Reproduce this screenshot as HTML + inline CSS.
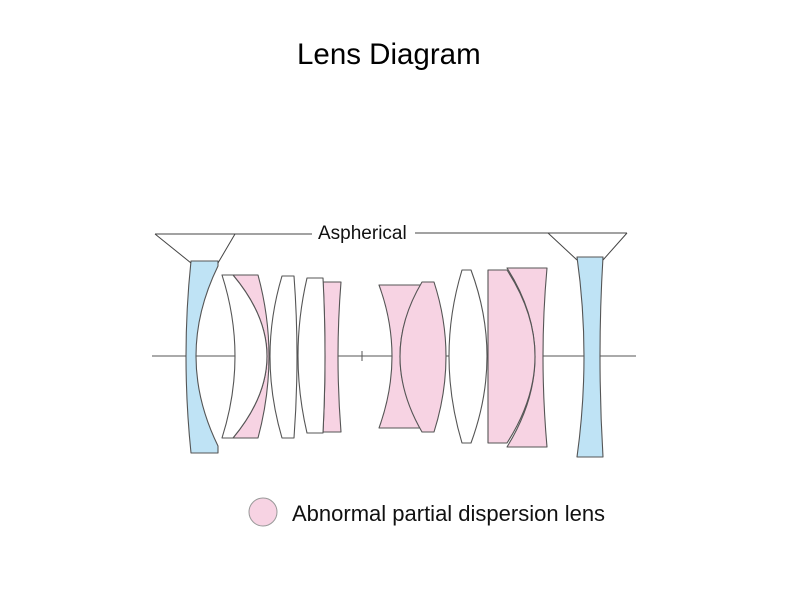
<!DOCTYPE html>
<html><head><style>
html,body{margin:0;padding:0;background:#fff;}
svg{display:block;}
</style></head><body>
<svg width="800" height="600" viewBox="0 0 800 600" xmlns="http://www.w3.org/2000/svg">
<rect width="800" height="600" fill="#fff"/>
<text x="297" y="64" font-family="Liberation Sans, sans-serif" font-size="29.5" fill="#000">Lens Diagram</text>

<line x1="152" y1="356" x2="636" y2="356" stroke="#555" stroke-width="1"/>
<line x1="362" y1="351" x2="362" y2="361" stroke="#555" stroke-width="1"/>

<g stroke="#555" stroke-width="1.1" stroke-linejoin="round">
<path d="M191,261 L218,261 L218,266 Q174,356 218,446 L218,453 L191,453 Q181,356 191,261 Z" fill="#bfe3f5"/>
<path d="M233,275 L258,275 Q280,356 258,438 L233,438 Q301,356 233,275 Z" fill="#f7d3e3"/>
<path d="M222,275 L233,275 Q301,356 233,438 L222,438 Q248,356 222,275 Z" fill="#fff"/>
<path d="M282,276 L294,276 Q300,356 294,438 L282,438 Q258,356 282,276 Z" fill="#fff"/>
<path d="M323,282 L341,282 Q335,356 341,432 L323,432 Q327,356 323,282 Z" fill="#f7d3e3"/>
<path d="M307,278 L323,278 Q327,356 323,433 L307,433 Q289,356 307,278 Z" fill="#fff"/>
<path d="M379,285 L421,285 Q379,356 421,428 L379,428 Q405,356 379,285 Z" fill="#f7d3e3"/>
<path d="M422,282 L434,282 Q458,356 434,432 L422,432 Q378,356 422,282 Z" fill="#f7d3e3"/>
<path d="M462,270 L471,270 Q503,356 471,443 L462,443 Q436,356 462,270 Z" fill="#fff"/>
<path d="M507,268 L547,268 Q539,356 547,447 L507,447 Q563,356 507,268 Z" fill="#f7d3e3"/>
<path d="M488,270 L507,270 Q563,356 507,443 L488,443 Z" fill="#f7d3e3"/>
<path d="M577,257 L603,257 Q597,356 603,457 L577,457 Q591,356 577,257 Z" fill="#bfe3f5"/>
</g>

<g stroke="#444" stroke-width="1" fill="none">
<line x1="155" y1="234" x2="312" y2="234"/>
<line x1="155" y1="234" x2="191" y2="263"/>
<line x1="235" y1="234" x2="218" y2="263"/>
<line x1="415" y1="233" x2="627" y2="233"/>
<line x1="548" y1="233" x2="577" y2="260"/>
<line x1="627" y1="233" x2="603" y2="260"/>
</g>
<text x="318" y="239" font-family="Liberation Sans, sans-serif" font-size="19" fill="#111">Aspherical</text>

<circle cx="263" cy="512" r="14" fill="#f7d3e3" stroke="#999" stroke-width="1"/>
<text x="292" y="521" font-family="Liberation Sans, sans-serif" font-size="22" fill="#111">Abnormal partial dispersion lens</text>
</svg>
</body></html>
